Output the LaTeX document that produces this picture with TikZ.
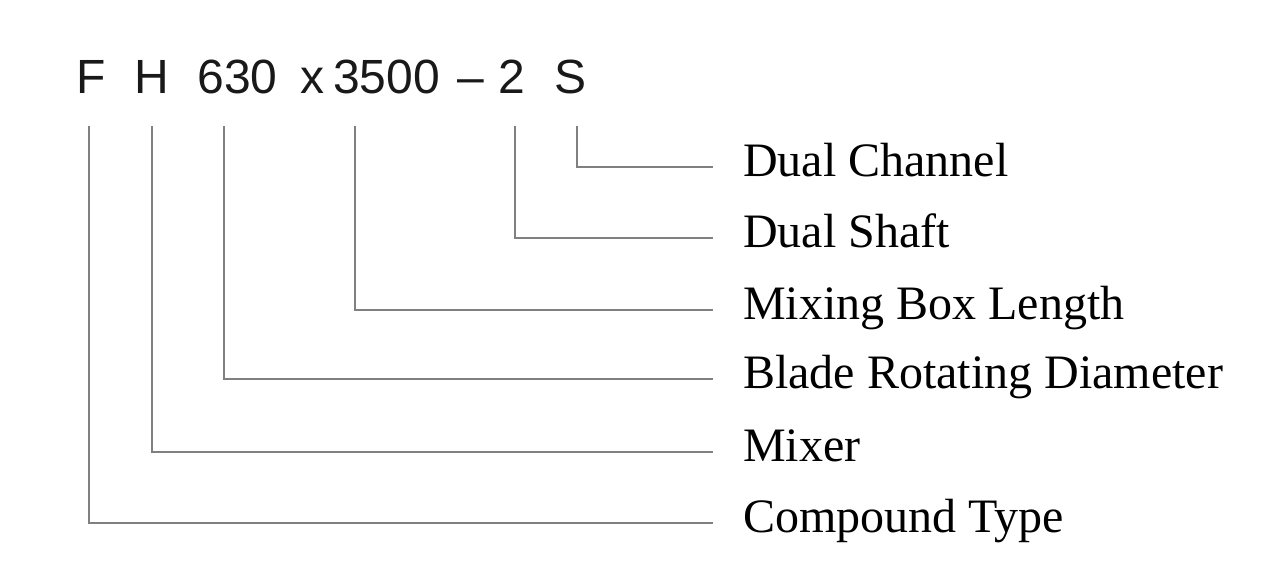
\documentclass[tikz,border=0pt]{standalone}
\usepackage{fontspec}
\setmainfont{Liberation Serif}
\newfontfamily\codefont{Liberation Sans}
\begin{document}
\begin{tikzpicture}[x=0.75pt,y=-0.75pt,
  conn/.style={draw=black!50, line width=1.5pt},
  code/.style={font=\codefont\fontsize{36}{36}\selectfont, anchor=base, inner sep=0pt, text=black!90},
  lbl/.style={font=\fontsize{36}{36}\selectfont, anchor=west, inner xsep=22.5pt, inner ysep=0pt, text height=24pt, text depth=10.5pt}]
\useasboundingbox (0,0) rectangle (1267,579);
% code tokens
\node[code] (cF) at (91.5,93) {F};
\node[code] (cH) at (152,93) {H};
\node[code] (c630) at (237.5,93) {630};
\node[code] (cx) at (312,93) {x};
\node[code] (c3500) at (386.5,93) {3500};
\node[code] (cdash) at (470.5,93) {–};
\node[code] (c2) at (511.5,93) {2};
\node[code] (cS) at (571,93) {S};
% line tops
\coordinate (tF) at (89,126);
\coordinate (tH) at (152,126);
\coordinate (t630) at (224,126);
\coordinate (t3500) at (355,126);
\coordinate (t2) at (515,126);
\coordinate (tS) at (577,126);
% labels
\node[lbl] (lS) at (713,167) {Dual Channel};
\node[lbl] (l2) at (713,238) {Dual Shaft};
\node[lbl] (l3500) at (713,310) {Mixing Box Length};
\node[lbl] (l630) at (713,379) {Blade Rotating Diameter};
\node[lbl] (lH) at (713,452) {Mixer};
\node[lbl] (lF) at (713,523) {Compound Type};
% connectors
\draw[conn] (tS) |- (lS);
\draw[conn] (t2) |- (l2);
\draw[conn] (t3500) |- (l3500);
\draw[conn] (t630) |- (l630);
\draw[conn] (tH) |- (lH);
\draw[conn] (tF) |- (lF);
\end{tikzpicture}
\end{document}
